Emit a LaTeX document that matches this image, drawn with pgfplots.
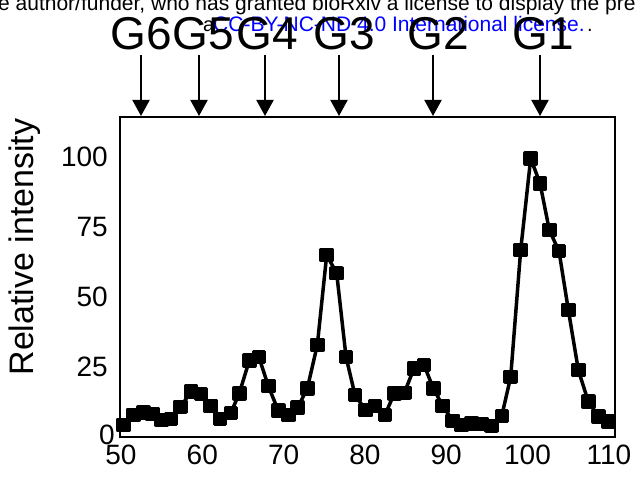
\documentclass[border=0pt]{standalone}
\usepackage{fontspec}
\setmainfont{Liberation Sans}
\usepackage{pgfplots}
\pgfplotsset{compat=1.18}
\usetikzlibrary{arrows.meta}
\begin{document}
\begin{tikzpicture}[x=1pt,y=1pt]
\useasboundingbox (0,0) rectangle (644,478);
% header (clipped bioRxiv line)
\node[anchor=base west,inner sep=0pt,font=\fontsize{21}{23}\selectfont] at (-2,467) {e author/funder, who has granted bioRxiv a license to display the pre};
\node[anchor=base west,inner sep=0pt,font=\fontsize{20}{22}\selectfont] at (203,446) {a};
\node[anchor=base west,inner sep=0pt,font=\fontsize{21}{23}\selectfont,text=blue] at (213,446) {CC-BY-NC-ND 4.0 International license.};
\node[anchor=base west,inner sep=0pt,font=\fontsize{20}{22}\selectfont] at (587,446) {.};
% peak labels
\foreach \xx/\lab in {141/G6,203/G5,267/G4,344/G3,438/G2,543/G1}{
  \node[anchor=base,inner sep=0pt,font=\fontsize{46}{48}\selectfont] at (\xx,428) {\lab};
}
\foreach \xx in {141,199,265,339,433,540}{
  \draw[line width=2pt,-{Triangle[length=16pt,width=17pt]}] (\xx,423) -- (\xx,362);
}
\node[rotate=90,inner sep=0pt,font=\fontsize{34}{36}\selectfont] at (25,231) {Relative intensity};
\begin{axis}[
  at={(120pt,41pt)}, anchor=south west,
  scale only axis, width=495pt, height=320pt,
  xmin=49.88, xmax=110.76, ymin=0, ymax=114.3,
  xtick={50,60,70,80,90,100,110},
  ytick={25,50,75,100},
  extra y ticks={0},
  extra y tick style={yticklabel style={xshift=7pt,yshift=2pt}},
  major tick length=0pt,
  axis line style={line width=1.5pt},
  /pgf/number format/assume math mode=true,
  tick label style={font=\fontsize{28}{30}\selectfont, inner sep=0pt},
  xticklabel style={yshift=-8pt},
  yticklabel style={xshift=-12pt},
  clip=false,
]
\addplot[black, line width=3.5pt, line join=round, mark=square*, mark size=5.5pt, mark options={solid}] coordinates {
(50.28,4.3) (51.51,7.9) (52.74,8.7) (53.85,8.2) (55.01,6.1) (56.15,6.4) (57.34,10.8) (58.61,16.2) (59.84,15.4) (61.03,11.1)
(62.18,6.4) (63.51,8.6) (64.55,15.6) (65.78,27.3) (66.97,28.5) (68.12,18.2) (69.35,9.4) (70.58,7.9) (71.73,10.5) (72.92,17.4)
(74.15,32.9) (75.30,65.0) (76.53,58.5) (77.68,28.6) (78.78,15.0) (80.10,9.6) (81.24,11.1) (82.47,7.9) (83.62,15.6) (84.85,15.8)
(86.04,24.5) (87.27,25.7) (88.41,17.4) (89.57,11.1) (90.80,5.8) (91.91,4.3) (93.14,4.9) (94.37,4.6) (95.60,4.0) (96.83,7.5)
(97.93,21.5) (99.16,66.8) (100.39,99.5) (101.54,90.6) (102.68,73.9) (103.87,66.4) (105.02,45.4) (106.25,23.9) (107.48,12.6) (108.71,7.3)
(109.94,5.5)
};
\end{axis}
\end{tikzpicture}
\end{document}
